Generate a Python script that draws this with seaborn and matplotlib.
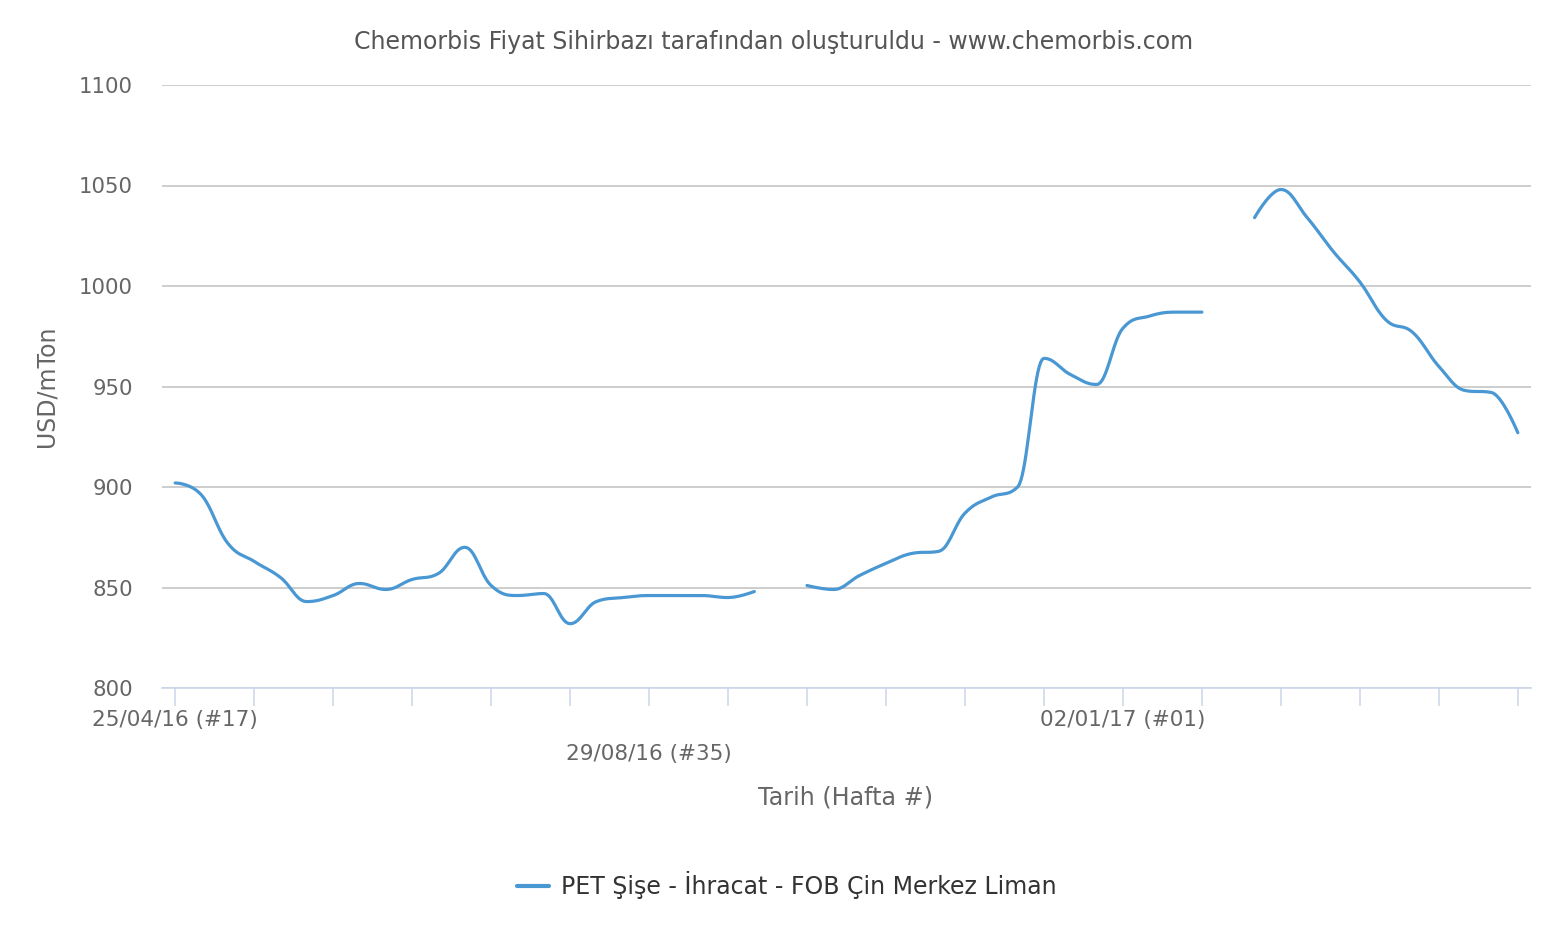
import numpy as np
import pandas as pd
import matplotlib
matplotlib.use("Agg")
import matplotlib.pyplot as plt
import matplotlib.transforms as mtransforms
from matplotlib.lines import Line2D
import seaborn as sns

# Veri (haftalık fiyatlar, USD/mTon) - boşluklar None
weeks = list(range(52))
prices = [902, 896, 872, 863, 855, 843, 846, 852, 849, 854, 857, 870, 851,
          846, 847, 832, 843, 845, 846, 846, 846, 845, 848, None,
          851, 849, 856, 862, 867, 868, 887, 895, 900, 964, 956, 951, 979,
          985, 987, 987, None,
          1034, 1048, 1034, 1017, 1002, 983, 977, 960, 948, 947, 927]
tick_weeks = list(range(0, 52, 3))
tick_labels = {0: "25/04/16 (#17)", 18: "29/08/16 (#35)", 36: "02/01/17 (#01)"}
series_name = "PET Şişe - İhracat - FOB Çin Merkez Liman"
line_color = "#4a98d3"


def spline_segment(xs, ys, smoothing=1.5, n=20):
    # Highcharts benzeri bezier yumuşatma
    xs = np.asarray(xs, float)
    ys = np.asarray(ys, float)
    m = len(xs)
    lc = np.column_stack([xs, ys]).copy()
    rc = np.column_stack([xs, ys]).copy()
    d = smoothing + 1
    for i in range(1, m - 1):
        px, py = xs[i], ys[i]
        lx, ly = xs[i - 1], ys[i - 1]
        nx, ny = xs[i + 1], ys[i + 1]
        lcx = (smoothing * px + lx) / d
        lcy = (smoothing * py + ly) / d
        rcx = (smoothing * px + nx) / d
        rcy = (smoothing * py + ny) / d
        corr = (rcy - lcy) * (rcx - px) / (rcx - lcx) + py - rcy
        lcy += corr
        rcy += corr
        if lcy > ly and lcy > py:
            lcy = max(ly, py); rcy = 2 * py - lcy
        elif lcy < ly and lcy < py:
            lcy = min(ly, py); rcy = 2 * py - lcy
        if rcy > ny and rcy > py:
            rcy = max(ny, py); lcy = 2 * py - rcy
        elif rcy < ny and rcy < py:
            rcy = min(ny, py); lcy = 2 * py - rcy
        lc[i] = (lcx, lcy)
        rc[i] = (rcx, rcy)
    t = np.linspace(0, 1, n)[:, None]
    pts = []
    for i in range(m - 1):
        p0 = np.array([xs[i], ys[i]])
        p3 = np.array([xs[i + 1], ys[i + 1]])
        p1, p2 = rc[i], lc[i + 1]
        b = ((1 - t) ** 3) * p0 + 3 * ((1 - t) ** 2) * t * p1 + 3 * (1 - t) * t ** 2 * p2 + t ** 3 * p3
        pts.append(b if i == 0 else b[1:])
    pts = np.vstack(pts)
    return pts[:, 0], pts[:, 1]


df = pd.DataFrame({"hafta": weeks, "fiyat": prices})
df["seg"] = df["fiyat"].isna().cumsum()
df = df.dropna()

sns.set_theme(style="white")
plt.rcParams["font.family"] = ["DejaVu Sans"]

fig = plt.figure(figsize=(15.52, 9.30), dpi=100)
ax = fig.add_axes([162 / 1552, 1 - 688 / 930, 1369 / 1552, 603 / 930])

for seg, g in df.groupby("seg"):
    sx, sy = spline_segment(g["hafta"].values, g["fiyat"].values)
    sns.lineplot(x=sx, y=sy, ax=ax, color=line_color, linewidth=2.3,
                 sort=False, estimator=None)

ax.set_xlim(-0.5, 51.5)
ax.set_ylim(800, 1100)
ax.set_yticks(range(800, 1101, 50))
ax.yaxis.grid(True, color="#c0c0c0", linewidth=1.1)
ax.set_axisbelow(True)
for s in ["top", "right", "left"]:
    ax.spines[s].set_visible(False)
ax.spines["bottom"].set_color("#ccd6eb")
ax.spines["bottom"].set_linewidth(1.2)

ax.set_xticks(tick_weeks)
ax.set_xticklabels([tick_labels.get(w, "") for w in tick_weeks])
ax.tick_params(axis="x", length=13, width=1.1, color="#ccd6eb", pad=3,
               labelsize=15.5, labelcolor="#666666", bottom=True)
ax.tick_params(axis="y", length=0, pad=21, labelsize=15.3, labelcolor="#666666")

# ikinci satır etiket
off = mtransforms.ScaledTranslation(0, -34 / 100, fig.dpi_scale_trans)
for w, lab in zip(tick_weeks, ax.get_xticklabels()):
    if w == 18:
        lab.set_transform(lab.get_transform() + off)

ax.set_xlabel("Tarih (Hafta #)", fontsize=17.2, color="#666666")
ax.xaxis.set_label_coords(0.499, -(797 - 688) / 603)
ax.xaxis.label.set_va("center")
ax.set_ylabel("USD/mTon", fontsize=17, color="#666666")
ax.yaxis.set_label_coords((47 - 162) / 1369, 0.5)
ax.yaxis.label.set_va("center")

fig.text(773.5 / 1552, 1 - 42 / 930,
         "Chemorbis Fiyat Sihirbazı tarafından oluşturuldu - www.chemorbis.com",
         ha="center", va="center", fontsize=17, color="#555555")

handle = Line2D([0], [0], color=line_color, linewidth=3)
fig.legend([handle], [series_name], loc="center",
           bbox_to_anchor=(787 / 1552, 1 - 885 / 930), frameon=False,
           fontsize=17, handlelength=1.35, handletextpad=0.5,
           labelcolor="#333333")

fig.savefig("out.png", dpi=100)
